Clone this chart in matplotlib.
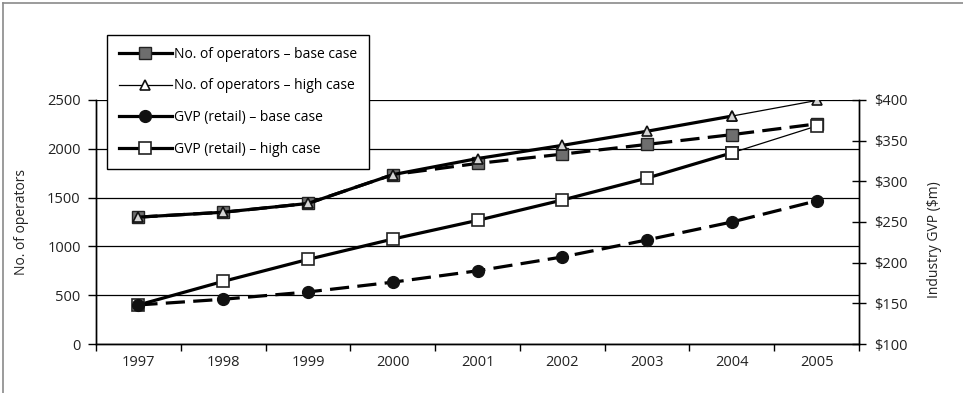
import matplotlib
matplotlib.use("Agg")
import matplotlib.pyplot as plt
from matplotlib.lines import Line2D
import numpy as np

plt.rcParams['font.family'] = ['Open Sans', 'DejaVu Sans']

years = ['1997', '1998', '1999', '2000', '2001', '2002', '2003', '2004', '2005']
operators_base = [1300, 1350, 1440, 1735, 1850, 1945, 2045, 2145, 2255]
operators_high = [1300, 1350, 1440, 1735, 1900, 2035, 2180, 2335, 2495]
gvp_base = [148, 155, 164, 176, 190, 207, 228, 250, 276]
gvp_high = [148, 177, 204, 229, 252, 277, 304, 335, 368]

labels = ['No. of operators \u2013 base case',
          'No. of operators \u2013 high case',
          'GVP (retail) \u2013 base case',
          'GVP (retail) \u2013 high case']

W, H = 963, 393
fig = plt.figure(figsize=(W / 100, H / 100), dpi=100)

# outer frame (left and top edges)
fig.add_artist(Line2D([3 / W, 3 / W], [0, 1 - 3 / H], color='#8a8a8a', lw=1.2,
                      transform=fig.transFigure))
fig.add_artist(Line2D([3 / W, 1], [1 - 3 / H, 1 - 3 / H], color='#8a8a8a', lw=1.2,
                      transform=fig.transFigure))

L, R, T, B = 96, 859, 100, 344
ax = fig.add_axes([L / W, 1 - B / H, (R - L) / W, (B - T) / H])
ax2 = ax.twinx()

x = np.arange(len(years))
thick = 2.3
thin = 0.9
dash = (0, (6, 2.6))

sq_kw = dict(marker='s', ms=8.5, mfc='#6e6e6e', mec='#222222', mew=1.0)
tri_kw = dict(marker='^', ms=7.5, mfc='#d4d4d4', mec='#111111', mew=1.2)
circ_kw = dict(marker='o', ms=8.5, mfc='#111111', mec='#111111', mew=1.0)
osq_kw = dict(marker='s', ms=8, mfc='white', mec='#222222', mew=1.2)

# operators
ax.plot(x, operators_base, color='black', lw=thick, linestyle=dash, zorder=3, **sq_kw)
ax.plot(x[:8], operators_high[:8], color='black', lw=thick, zorder=4, **tri_kw)
ax.plot(x[7:], operators_high[7:], color='black', lw=thin, zorder=4, **tri_kw)

# GVP
ax2.plot(x[:8], gvp_high[:8], color='black', lw=thick, zorder=3, **osq_kw)
ax2.plot(x[7:], gvp_high[7:], color='black', lw=thin, zorder=3, **osq_kw)
ax2.plot(x, gvp_base, color='black', lw=thick, linestyle=dash, zorder=4, **circ_kw)

ax.set_xlim(-0.5, len(years) - 0.5)
ax.set_ylim(0, 2500)
ax2.set_ylim(100, 400)

ax.set_yticks(np.arange(0, 2501, 500))
ax2.set_yticks(np.arange(100, 401, 50))
ax2.set_yticklabels(['$%d' % v for v in range(100, 401, 50)])

ax.set_xticks(x)
ax.set_xticklabels(years)
ax.set_xticks(np.arange(-0.5, len(years), 1.0), minor=True)
ax.tick_params(axis='x', which='major', length=0, pad=8, labelsize=10.5, colors='#222222')
ax.tick_params(axis='x', which='minor', length=5, width=1, direction='out')
ax.tick_params(axis='y', length=6, width=1, direction='out', pad=5, labelsize=10.5,
               labelcolor='#222222')
ax2.tick_params(axis='y', length=10, width=1, direction='inout', pad=6, labelsize=10.5,
                labelcolor='#222222')

ax.yaxis.grid(True, color='black', lw=0.9)
ax.set_axisbelow(True)

for a in (ax, ax2):
    a.spines['top'].set_visible(False)
    for s in ('left', 'right', 'bottom'):
        a.spines[s].set_linewidth(1.0)
        a.spines[s].set_color('black')

ax.set_ylabel('No. of operators', fontsize=10, color='#222222')
ax.yaxis.set_label_coords((29 - L) / (R - L), 0.5)
ax2.set_ylabel('Industry GVP ($m)', fontsize=10, color='#222222')
ax2.yaxis.set_label_coords((927 - L) / (R - L), (B - 240) / (B - T))

handles = [
    Line2D([], [], color='black', lw=thick, **sq_kw),
    Line2D([], [], color='black', lw=thin, marker='^', ms=7.5, mfc='white', mec='#111111', mew=1.2),
    Line2D([], [], color='black', lw=thick, **circ_kw),
    Line2D([], [], color='black', lw=thick, **osq_kw),
]
leg = fig.legend(handles, labels, loc='upper left',
                 bbox_to_anchor=(107 / W, 1 - 35 / H), bbox_transform=fig.transFigure,
                 fontsize=10, frameon=True, fancybox=False, framealpha=1,
                 edgecolor='black', handlelength=3.8, handletextpad=0.15,
                 labelspacing=1.2, borderpad=0.85, borderaxespad=0)
leg.get_frame().set_linewidth(1.0)
leg.set_zorder(10)

fig.savefig('out.png', dpi=100)
